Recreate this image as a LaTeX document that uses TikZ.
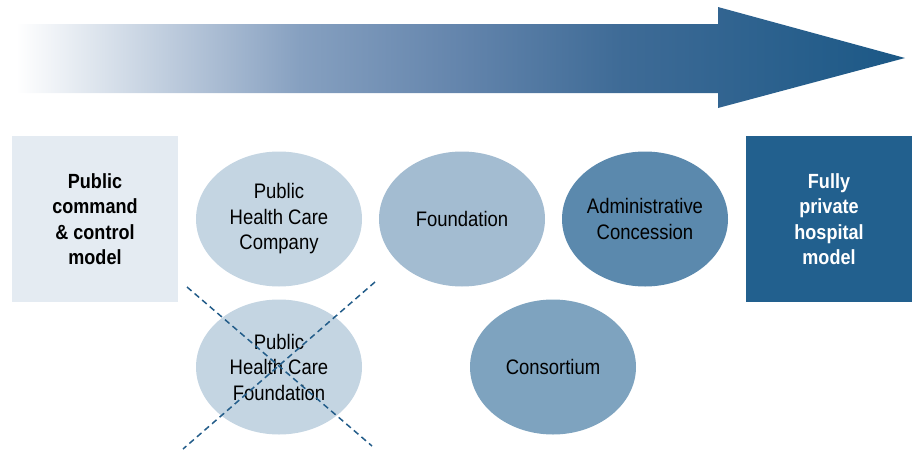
\documentclass[tikz,border=0pt]{standalone}
\usepackage{fontspec}
\setmainfont{Liberation Sans}[FakeStretch=0.88]
\usetikzlibrary{shapes.geometric}
\definecolor{boxlight}{HTML}{E4EBF2}
\definecolor{boxdark}{HTML}{22608E}
\definecolor{ellA}{HTML}{C4D5E2}
\definecolor{ellB}{HTML}{A3BCD1}
\definecolor{ellC}{HTML}{5B89AD}
\definecolor{ellD}{HTML}{7EA3BF}
\definecolor{crossc}{HTML}{225C89}
\pgfdeclarehorizontalshading{arrowshade}{100bp}{rgb(0bp)=(1,1,1); rgb(25bp)=(1,1,1); rgb(41bp)=(0.525,0.627,0.753); rgb(50bp)=(0.39,0.52,0.675); rgb(59bp)=(0.245,0.42,0.59); rgb(75bp)=(0.106,0.345,0.525); rgb(100bp)=(0.106,0.345,0.525)}
\tikzset{
  modelbox/.style={rectangle, minimum width=166pt, minimum height=166pt, inner sep=0pt, align=center,
    font=\fontsize{20.5}{25.5}\selectfont\bfseries},
  ellshape/.style={ellipse, minimum width=166pt, minimum height=135pt, inner sep=0pt},
  elltext/.style={align=center, inner sep=0pt, font=\fontsize{21}{25.5}\selectfont, text=black},
  crossline/.style={draw=crossc, line width=1.5pt, dash pattern=on 6pt off 4pt}
}
\begin{document}
\begin{tikzpicture}[x=1pt,y=-1pt]
\useasboundingbox (0,0) rectangle (916,453);
% big arrow
\shade[shading=arrowshade] (16,24) -- (718,24) -- (718,7) -- (905,58) -- (718,108) -- (718,93) -- (16,93) -- cycle;
% boxes
\node[modelbox, fill=boxlight, text=black] (left) at (95,219) {Public\\command\\\& control\\model};
\node[modelbox, fill=boxdark, text=white] (right) at (829,219) {Fully\\private\\hospital\\model};
% ellipses
\node[ellshape, fill=ellA] (phcc) at (279,219) {};
\node[elltext] (phcct) at (phcc) {Public\\Health Care\\Company};
\node[ellshape, fill=ellB] (found) at (462,219) {};
\node[elltext] (foundt) at (found) {Foundation};
\node[ellshape, fill=ellC] (admin) at (645,219) {};
\node[elltext] (admint) at (admin) {Administrative\\Concession};
\node[ellshape, fill=ellA] (phcf) at (279,367) {};
\node[elltext] (phcft) at (phcf) {Public\\Health Care\\Foundation};
\node[ellshape, fill=ellD] (cons) at (553,367) {};
\node[elltext] (const) at (cons) {Consortium};
% cross
\coordinate (c1a) at (187,287);
\coordinate (c1b) at (372,446);
\coordinate (c2a) at (375,282);
\coordinate (c2b) at (183,449);
\draw[crossline] (c1a) -- (c1b);
\draw[crossline] (c2a) -- (c2b);
\end{tikzpicture}
\end{document}
